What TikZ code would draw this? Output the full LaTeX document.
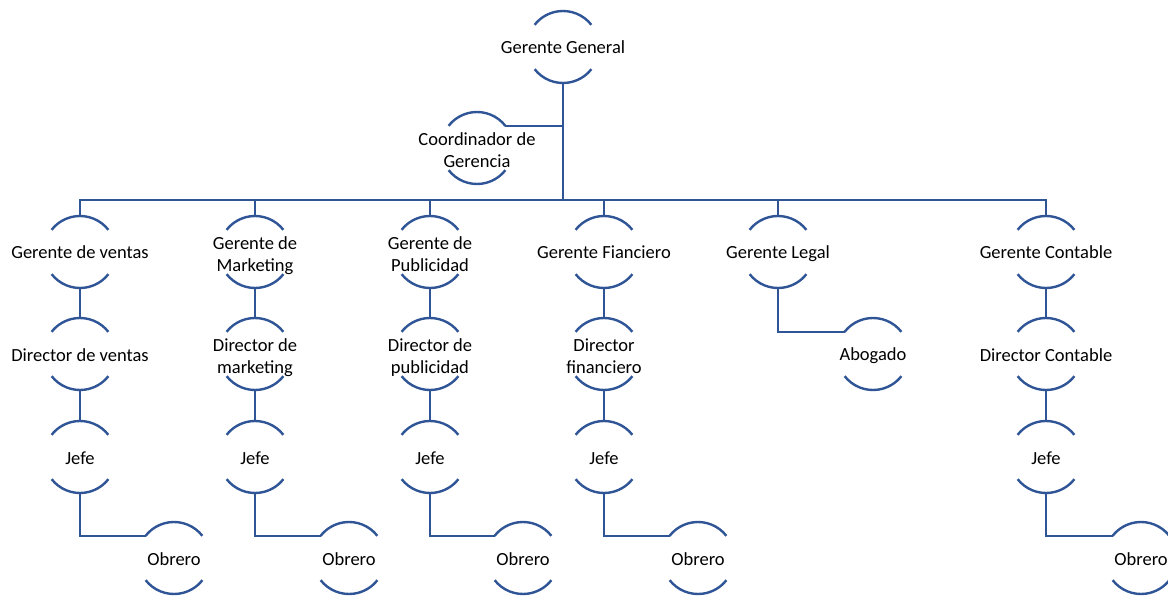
\documentclass[tikz,border=0pt]{standalone}
\usepackage{fontspec}
\setmainfont{Carlito}
\definecolor{orgblue}{RGB}{47,85,151}
\newcommand{\orgstrut}{\rule[-3pt]{0pt}{20pt}}
\begin{document}
\begin{tikzpicture}[x=1pt,y=1pt,
  ring/.style={circle, minimum size=72pt, inner sep=0pt, outer sep=0pt},
  orgnode/.style={ring, label={[orgtext]center:#1}},
  orgnodetwo/.style={ring, label={[orgtext, yshift=-3.5pt]center:#1}},
  orgtext/.style={align=center, inner sep=0pt,
    font=\fontsize{18.5}{21.5}\selectfont, text=black,
    execute at begin node=\orgstrut, execute at end node=\orgstrut},
  link/.style={draw=orgblue, line width=2.4pt},
  rim/.style={draw=orgblue, line width=2.4pt, line cap=butt}]
\useasboundingbox (0,0) rectangle (1168,-596);

% top of the chart
\node[orgnode={Gerente General}] (gg) at (563,-47) {};
\node[orgnodetwo={Coordinador de\\Gerencia}] (cg) at (477,-148) {};
\coordinate (bus) at (563,-200);

% second level
\node[orgnode={Gerente de ventas}] (gv) at (80,-252) {};
\node[orgnodetwo={Gerente de\\Marketing}] (gm) at (255,-252) {};
\node[orgnodetwo={Gerente de\\Publicidad}] (gp) at (430,-252) {};
\node[orgnode={Gerente Fianciero}] (gf) at (604,-252) {};
\node[orgnode={Gerente Legal}] (gl) at (778,-252) {};
\node[orgnode={Gerente Contable}] (gc) at (1046,-252) {};

% third level
\node[orgnode={Director de ventas}] (dv) at (80,-354) {};
\node[orgnodetwo={Director de\\marketing}] (dm) at (255,-354) {};
\node[orgnodetwo={Director de\\publicidad}] (dp) at (430,-354) {};
\node[orgnodetwo={Director\\financiero}] (df) at (604,-354) {};
\node[orgnode={Abogado}] (ab) at (873,-354) {};
\node[orgnode={Director Contable}] (dc) at (1046,-354) {};

% fourth level
\node[orgnode={Jefe}] (jv) at (80,-457) {};
\node[orgnode={Jefe}] (jm) at (255,-457) {};
\node[orgnode={Jefe}] (jp) at (430,-457) {};
\node[orgnode={Jefe}] (jf) at (604,-457) {};
\node[orgnode={Jefe}] (jc) at (1046,-457) {};

% workers
\node[orgnode={Obrero}] (ov) at (174,-558) {};
\node[orgnode={Obrero}] (om) at (349,-558) {};
\node[orgnode={Obrero}] (op) at (523,-558) {};
\node[orgnode={Obrero}] (of) at (698,-558) {};
\node[orgnode={Obrero}] (oc) at (1141,-558) {};

% open circles: an arc above and below each label
\foreach \n in {gg,cg,gv,gm,gp,gf,gl,gc,dv,dm,dp,df,ab,dc,jv,jm,jp,jf,jc,ov,om,op,of,oc}{
  \path[rim] (\n.38) arc[start angle=38, end angle=142, radius=36pt];
  \path[rim] (\n.218) arc[start angle=218, end angle=322, radius=36pt];
}

% connectors
\path[link] (gg.south) -- (bus);
\path[link] (cg.38) -- (cg.38 -| gg.south);
\path[link] (gv.north) -- (gv.north |- bus) -- (gc.north |- bus) -- (gc.north);
\foreach \n in {gm,gp,gf,gl}{
  \path[link] (\n.north) -- (\n.north |- bus);
}
\foreach \a/\b in {gv/dv,gm/dm,gp/dp,gf/df,gc/dc,dv/jv,dm/jm,dp/jp,df/jf,dc/jc}{
  \path[link] (\a.south) -- (\b.north);
}
\foreach \a/\b in {jv/ov,jm/om,jp/op,jf/of,jc/oc,gl/ab}{
  \path[link] (\a.south) |- (\b.142);
}
\end{tikzpicture}
\end{document}
